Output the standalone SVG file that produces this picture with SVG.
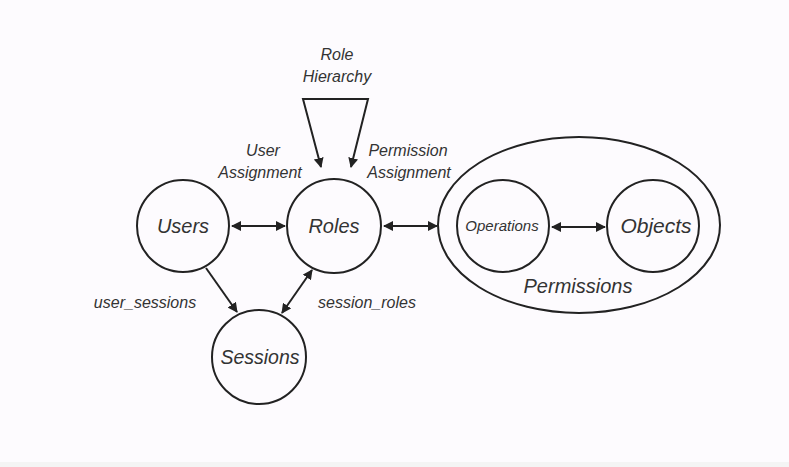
<svg xmlns="http://www.w3.org/2000/svg" width="789" height="467" viewBox="0 0 789 467">
<style>
.n{fill:none;stroke:#222;stroke-width:2}
.t{font-family:"Liberation Sans",Arial,sans-serif;font-style:italic;fill:#333;text-anchor:middle}
.c{stroke:#222;stroke-width:2;fill:none}
</style>
<defs>
<marker id="ah" viewBox="0 0 10 10" refX="9" refY="5" markerWidth="5" markerHeight="5" orient="auto-start-reverse" markerUnits="strokeWidth">
<path d="M0,0 L10,5 L0,10 Z" fill="#222"/>
</marker>
</defs>
<rect width="789" height="467" fill="#fdfbfe"/>
<rect y="462" width="789" height="5" fill="#f4f4f4"/>
<g id="users"><circle class="n" cx="183" cy="226" r="46"/><text class="t" x="183" y="233" font-size="20">Users</text></g>
<g id="roles"><circle class="n" cx="334" cy="226" r="47"/><text class="t" x="334" y="233" font-size="20">Roles</text></g>
<g id="sessions"><circle class="n" cx="259" cy="357" r="47"/><text class="t" x="260" y="364" font-size="19.5">Sessions</text></g>
<g id="permissions"><ellipse class="n" cx="579" cy="225" rx="141" ry="88"/><text class="t" x="578" y="293" font-size="20">Permissions</text></g>
<g id="operations"><circle class="n" cx="503" cy="226" r="46"/><text class="t" x="502" y="231" font-size="15">Operations</text></g>
<g id="objects"><circle class="n" cx="653" cy="226" r="46"/><text class="t" x="656" y="233" font-size="21">Objects</text></g>
<g id="connectors">
<line class="c" x1="232" y1="226" x2="285" y2="226" marker-start="url(#ah)" marker-end="url(#ah)"/>
<line class="c" x1="384" y1="226" x2="437" y2="226" marker-start="url(#ah)" marker-end="url(#ah)"/>
<line class="c" x1="552" y1="227" x2="605" y2="227" marker-start="url(#ah)" marker-end="url(#ah)"/>
<line class="c" x1="206" y1="268" x2="237" y2="312" marker-end="url(#ah)"/>
<line class="c" x1="282" y1="313" x2="312" y2="270" marker-start="url(#ah)" marker-end="url(#ah)"/>
<polyline class="c" points="321,167 303,99 368,99 351,167" marker-start="url(#ah)" marker-end="url(#ah)"/>
</g>
<g id="labels">
<text class="t" x="337" y="60" font-size="16">Role</text>
<text class="t" x="337" y="82" font-size="16">Hierarchy</text>
<text class="t" x="263" y="156" font-size="16">User</text>
<text class="t" x="260" y="178" font-size="16">Assignment</text>
<text class="t" x="408" y="156" font-size="16">Permission</text>
<text class="t" x="409" y="178" font-size="16">Assignment</text>
<text class="t" x="145" y="308" font-size="16">user_sessions</text>
<text class="t" x="367" y="308" font-size="16">session_roles</text>
</g>
</svg>
